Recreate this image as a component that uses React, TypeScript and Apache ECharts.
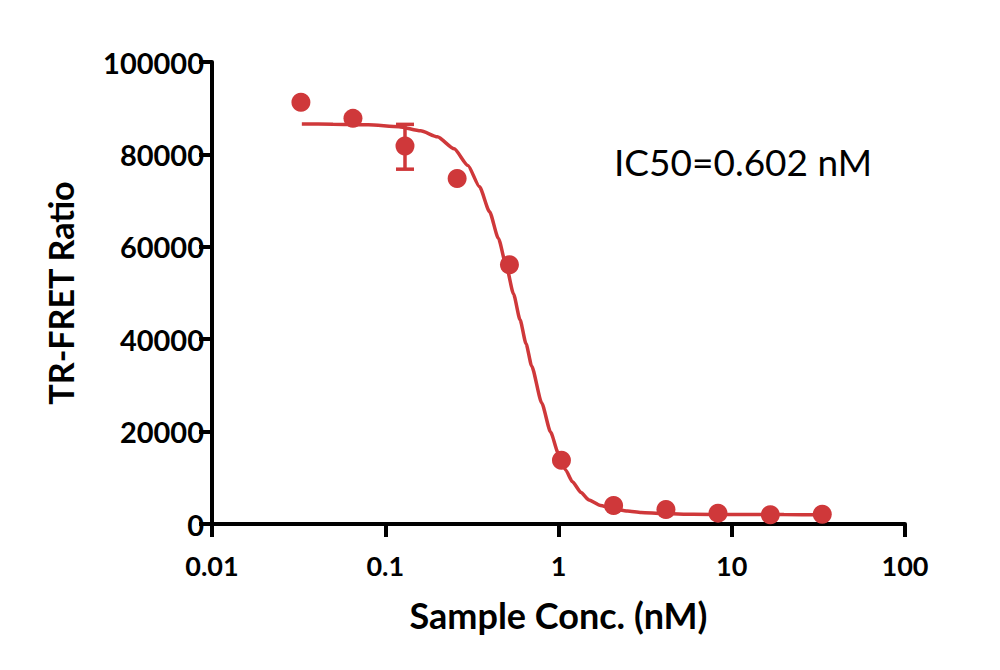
import React, { useEffect, useRef } from "react";
import * as echarts from "echarts";

// Measured points (mean TR-FRET ratio at each sample concentration, nM)
const conc = [0.0326, 0.0651, 0.13, 0.26, 0.521, 1.04, 2.08, 4.17, 8.33, 16.7, 33.3];
const ratio = [91300, 87800, 81800, 74800, 56100, 13800, 4000, 3150, 2350, 2000, 2130];

// Error bar (low / high) for the point that has one
const errConc = [0.13];
const errLow = [76800];
const errHigh = [86500];

// Fitted dose-response curve, traced along its length
const curveConc = [
  0.033, 0.05, 0.08, 0.12, 0.16, 0.2, 0.25, 0.3, 0.35, 0.4, 0.45, 0.5, 0.55, 0.6, 0.65, 0.7,
  0.8, 0.9, 1.0, 1.1, 1.2, 1.35, 1.5, 1.75, 2.0, 2.5, 3.0, 4.0, 6.0, 10, 20, 33.3,
];
const curveRatio = [
  86600, 86550, 86400, 86000, 85100, 83800, 81200, 77600, 73000, 67600, 61800, 55800, 49800,
  44200, 39000, 34200, 26200, 19900, 15200, 11700, 9200, 6800, 5200, 4000, 3400, 2800, 2500,
  2250, 2100, 2050, 2030, 2020,
];

// Axis ticks
const xTicks = [0.01, 0.1, 1, 10, 100];
const yTicks = [0, 20000, 40000, 60000, 80000, 100000];

const RED = "#CF383A";
const FONT = "Lato, 'Open Sans', sans-serif";

export default function App() {
  const ref = useRef<HTMLDivElement>(null);

  useEffect(() => {
    if (!ref.current) return;
    const chart = echarts.init(ref.current, null, { renderer: "svg" });

    const option: any = {
      animation: false,
      backgroundColor: "#ffffff",
      grid: { left: 212, right: 95, top: 62, bottom: 146, containLabel: false },
      xAxis: {
        type: "log",
        logBase: 10,
        min: xTicks[0],
        max: xTicks[xTicks.length - 1],
        name: "Sample Conc. (nM)",
        nameLocation: "middle",
        nameGap: 73,
        nameTextStyle: { fontFamily: FONT, fontWeight: "bold", fontSize: 36, color: "#000" },
        axisLine: { show: true, onZero: false, lineStyle: { color: "#000", width: 4 } },
        axisTick: { show: true, inside: false, length: 13, lineStyle: { color: "#000", width: 4 } },
        minorTick: { show: false },
        splitLine: { show: false },
        axisLabel: {
          margin: 28,
          fontFamily: FONT,
          fontWeight: "bold",
          fontSize: 27,
          color: "#000",
          formatter: (v: number) => {
            const hit = xTicks.find((t) => Math.abs(Math.log10(t) - Math.log10(v)) < 1e-6);
            return hit !== undefined ? String(hit) : "";
          },
        },
      },
      yAxis: {
        type: "value",
        min: yTicks[0],
        max: yTicks[yTicks.length - 1],
        interval: yTicks[1] - yTicks[0],
        name: "TR-FRET Ratio",
        nameLocation: "middle",
        nameGap: 135,
        nameTextStyle: { fontFamily: FONT, fontWeight: "bold", fontSize: 34, color: "#000" },
        axisLine: { show: true, lineStyle: { color: "#000", width: 4 } },
        axisTick: { show: true, inside: false, length: 13, lineStyle: { color: "#000", width: 4 } },
        splitLine: { show: false },
        axisLabel: {
          margin: 8,
          fontFamily: FONT,
          fontWeight: "bold",
          fontSize: 29,
          color: "#000",
          formatter: (v: number) => String(v),
        },
      },
      graphic: [
        {
          type: "text",
          left: 614,
          top: 143,
          style: {
            text: "IC50=0.602 nM",
            fontFamily: FONT,
            fontSize: 37,
            fill: "#000",
          },
        },
      ],
      series: [
        {
          type: "line",
          data: curveConc.map((c, i) => [c, curveRatio[i]]),
          smooth: 0.2,
          smoothMonotone: "x",
          showSymbol: false,
          symbol: "none",
          lineStyle: { color: RED, width: 3.5 },
          z: 2,
        },
        {
          type: "custom",
          data: errConc.map((c, i) => [c, errLow[i], errHigh[i]]),
          renderItem: (_params: any, api: any) => {
            const x = api.value(0);
            const top = api.coord([x, api.value(2)]);
            const bot = api.coord([x, api.value(1)]);
            const hw = 9;
            const style = { stroke: RED, lineWidth: 3.5 };
            return {
              type: "group",
              children: [
                { type: "line", shape: { x1: top[0], y1: top[1], x2: bot[0], y2: bot[1] }, style },
                { type: "line", shape: { x1: top[0] - hw, y1: top[1], x2: top[0] + hw, y2: top[1] }, style },
                { type: "line", shape: { x1: bot[0] - hw, y1: bot[1], x2: bot[0] + hw, y2: bot[1] }, style },
              ],
            };
          },
          z: 3,
        },
        {
          type: "scatter",
          data: conc.map((c, i) => [c, ratio[i]]),
          symbol: "circle",
          symbolSize: 19,
          itemStyle: { color: RED, opacity: 1 },
          z: 4,
        },
      ],
    };

    chart.setOption(option);
    return () => chart.dispose();
  }, []);

  return (
    <div
      ref={ref}
      style={{ position: "absolute", left: 0, top: 0, width: 1000, height: 670, background: "#fff" }}
    />
  );
}
